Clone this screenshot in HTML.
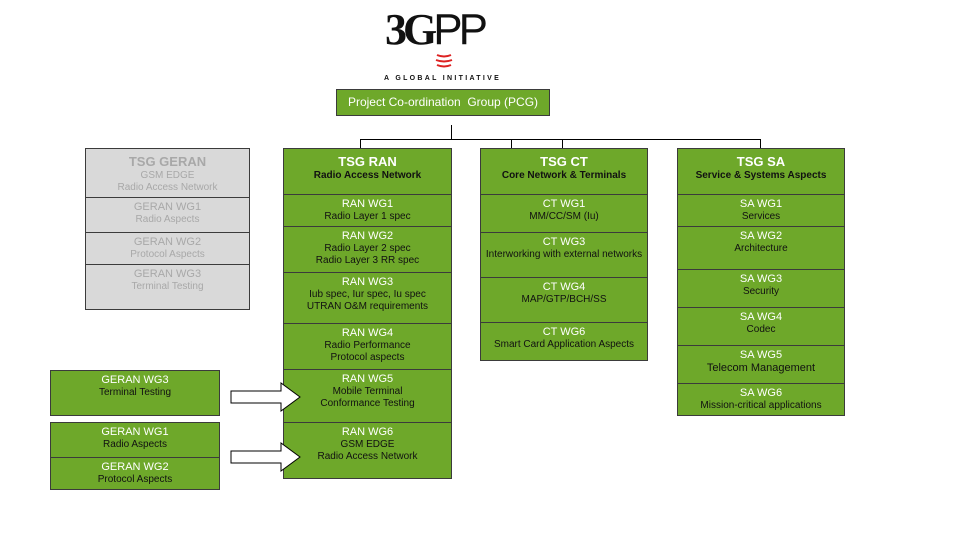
<!DOCTYPE html>
<html><head><meta charset="utf-8"><style>
body{margin:0;width:960px;height:540px;background:#fff;position:relative;overflow:hidden;font-family:"Liberation Sans",sans-serif;}
.b{position:absolute;box-sizing:border-box;background:#6ea82a;border:1px solid #3b3b3b;text-align:center;font-size:10px;color:#111;line-height:12px;padding-top:3px}
.b .t{color:#fff;font-size:11px;line-height:13px}
.b .h{color:#fff;font-size:13px;font-weight:bold;line-height:16px;padding-top:2px}
.g{background:#d9d9d9;color:#a8a8a8}
.g .t,.g .h{color:#a8a8a8}
.l{position:absolute;background:#000}
</style></head><body>
<div style="position:absolute;left:385px;top:4px;width:130px;font:bold 44px 'Liberation Serif',serif;color:#111;letter-spacing:-4px;">3G<span style="font-weight:normal;font-family:'Liberation Sans'">PP</span></div>
<svg style="position:absolute;left:0;top:0" width="960" height="80">
<path d="M437,55 q7,3 14,0 M436,60 q8,3 16,0 M437,65 q7,3 14,0" stroke="#d22" stroke-width="2" fill="none"/>
</svg>
<div style="position:absolute;left:384px;top:75px;font:bold 7px 'Liberation Sans';letter-spacing:2.3px;color:#111">A GLOBAL INITIATIVE</div>
<div class="b" style="left:336px;top:89px;width:214px;height:27px;font-size:12px;color:#fff;padding-top:6px">Project Co-ordination&nbsp; Group (PCG)</div>
<div class="l" style="left:451px;top:125px;width:1px;height:14px"></div>
<div class="l" style="left:360px;top:139px;width:400px;height:1px"></div>
<div class="l" style="left:360px;top:139px;width:1px;height:9px"></div>
<div class="l" style="left:511px;top:139px;width:1px;height:9px"></div>
<div class="l" style="left:562px;top:139px;width:1px;height:9px"></div>
<div class="l" style="left:760px;top:139px;width:1px;height:9px"></div>

<div class="b g" style="left:85px;top:148px;width:165px;height:50px"><div class="h">TSG GERAN</div>GSM EDGE<br>Radio Access Network</div>
<div class="b g" style="left:85px;top:197px;width:165px;height:36px"><div class="t">GERAN WG1</div>Radio Aspects</div>
<div class="b g" style="left:85px;top:232px;width:165px;height:33px"><div class="t">GERAN WG2</div>Protocol Aspects</div>
<div class="b g" style="left:85px;top:264px;width:165px;height:46px"><div class="t">GERAN WG3</div>Terminal Testing</div>

<div class="b" style="left:283px;top:148px;width:169px;height:47px"><div class="h">TSG RAN</div><b>Radio Access Network</b></div>
<div class="b" style="left:283px;top:194px;width:169px;height:33px"><div class="t">RAN WG1</div>Radio Layer 1 spec</div>
<div class="b" style="left:283px;top:226px;width:169px;height:47px"><div class="t">RAN WG2</div>Radio Layer 2 spec<br>Radio Layer 3 RR spec</div>
<div class="b" style="left:283px;top:272px;width:169px;height:52px"><div class="t">RAN WG3</div>Iub spec, Iur spec, Iu spec<br>UTRAN O&amp;M requirements</div>
<div class="b" style="left:283px;top:323px;width:169px;height:47px"><div class="t">RAN WG4</div>Radio Performance<br>Protocol aspects</div>
<div class="b" style="left:283px;top:369px;width:169px;height:54px"><div class="t">RAN WG5</div>Mobile Terminal<br>Conformance Testing</div>
<div class="b" style="left:283px;top:422px;width:169px;height:57px"><div class="t">RAN WG6</div>GSM EDGE<br>Radio Access Network</div>

<div class="b" style="left:480px;top:148px;width:168px;height:47px"><div class="h">TSG CT</div><b>Core Network &amp; Terminals</b></div>
<div class="b" style="left:480px;top:194px;width:168px;height:39px"><div class="t">CT WG1</div>MM/CC/SM (Iu)</div>
<div class="b" style="left:480px;top:232px;width:168px;height:46px"><div class="t">CT WG3</div>Interworking with external networks</div>
<div class="b" style="left:480px;top:277px;width:168px;height:46px"><div class="t">CT WG4</div>MAP/GTP/BCH/SS</div>
<div class="b" style="left:480px;top:322px;width:168px;height:39px"><div class="t">CT WG6</div>Smart Card Application Aspects</div>

<div class="b" style="left:677px;top:148px;width:168px;height:47px"><div class="h">TSG SA</div><b>Service &amp; Systems Aspects</b></div>
<div class="b" style="left:677px;top:194px;width:168px;height:33px"><div class="t">SA WG1</div>Services</div>
<div class="b" style="left:677px;top:226px;width:168px;height:44px"><div class="t">SA WG2</div>Architecture</div>
<div class="b" style="left:677px;top:269px;width:168px;height:39px"><div class="t">SA WG3</div>Security</div>
<div class="b" style="left:677px;top:307px;width:168px;height:39px"><div class="t">SA WG4</div>Codec</div>
<div class="b" style="left:677px;top:345px;width:168px;height:39px"><div class="t">SA WG5</div><span style="font-size:11px">Telecom Management</span></div>
<div class="b" style="left:677px;top:383px;width:168px;height:33px"><div class="t">SA WG6</div>Mission-critical applications</div>

<div class="b" style="left:50px;top:370px;width:170px;height:46px"><div class="t">GERAN WG3</div>Terminal Testing</div>
<div class="b" style="left:50px;top:422px;width:170px;height:36px"><div class="t">GERAN WG1</div>Radio Aspects</div>
<div class="b" style="left:50px;top:457px;width:170px;height:33px"><div class="t">GERAN WG2</div>Protocol Aspects</div>

<svg style="position:absolute;left:0;top:0" width="960" height="540">
<polygon points="231,391 281,391 281,383 300,397 281,411 281,403 231,403" fill="#fff" stroke="#000" stroke-width="1"/>
<polygon points="231,451 281,451 281,443 300,457 281,471 281,463 231,463" fill="#fff" stroke="#000" stroke-width="1"/>
</svg>
</body></html>
